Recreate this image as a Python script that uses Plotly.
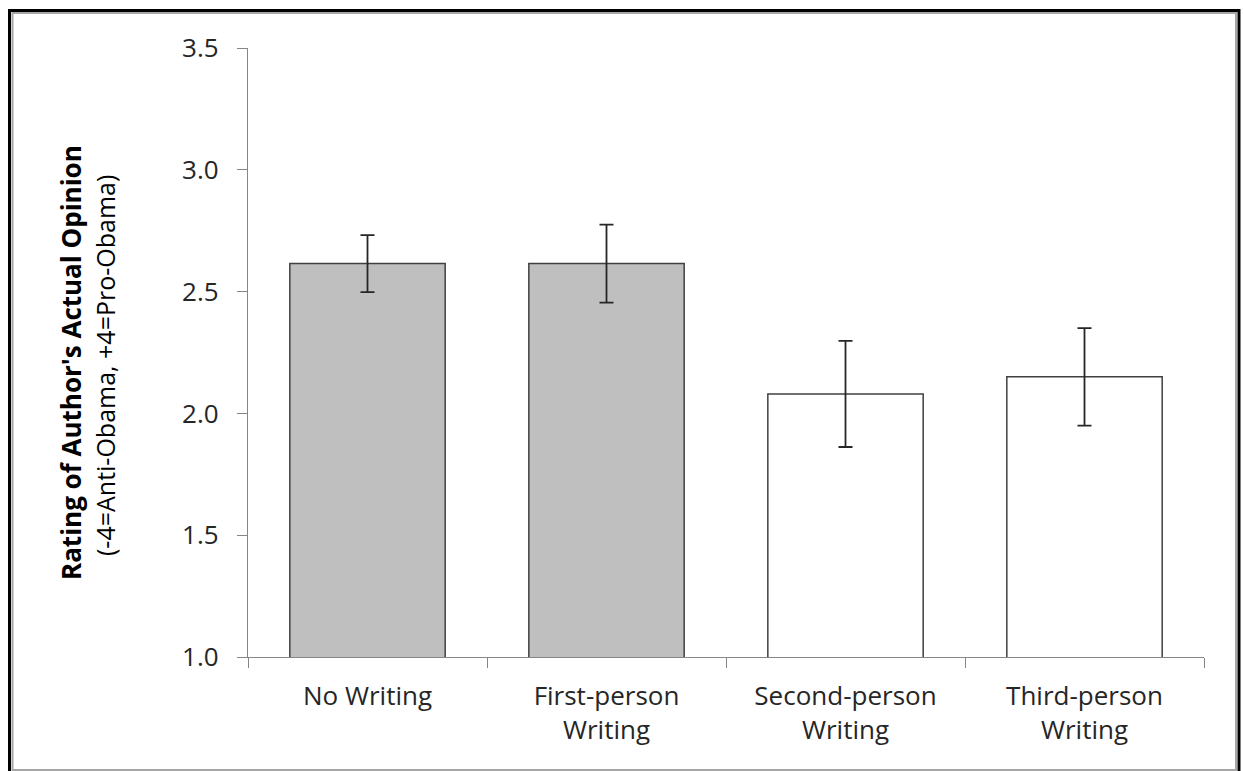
import plotly.graph_objects as go

# Condition labels and mean ratings with error magnitudes
categories = ["No Writing", "First-person<br>Writing", "Second-person<br>Writing", "Third-person<br>Writing"]
means = [2.615, 2.615, 2.08, 2.15]
errors = [0.117, 0.16, 0.218, 0.20]
fills = ["#BFBFBF", "#BFBFBF", "#FFFFFF", "#FFFFFF"]

y_ticks = [1.0, 1.5, 2.0, 2.5, 3.0, 3.5]

W, H = 1243, 771
L, R, T, B = 248, 39, 48, 114
PW, PH = W - L - R, H - T - B

FONT = "Open Sans"
TXT = "#262626"
AXIS = "#868686"


def px(x):
    return (x - L) / PW


def py(y):
    return (H - B - y) / PH


fig = go.Figure()
fig.add_trace(go.Bar(
    x=categories,
    y=means,
    marker=dict(color=fills, line=dict(color="#404040", width=1.5)),
    error_y=dict(type="data", array=errors, visible=True,
                 color="#262626", thickness=1.8, width=7),
    width=0.65,
))

fig.update_layout(
    width=W, height=H,
    margin=dict(l=L, r=R, t=T, b=B),
    paper_bgcolor="white", plot_bgcolor="white",
    showlegend=False,
    font=dict(family=FONT, size=26, color=TXT),
    xaxis=dict(
        showline=True, linecolor=AXIS, linewidth=1.3,
        ticks="outside", ticklen=10, tickcolor=AXIS, tickwidth=1.3,
        tickson="boundaries", showgrid=False, ticklabelstandoff=16,
        tickfont=dict(family=FONT, size=26, color=TXT),
    ),
    yaxis=dict(
        range=[1.0, 3.5], tickvals=y_ticks, tickformat=".1f",
        showline=True, linecolor=AXIS, linewidth=1.3,
        ticks="outside", ticklen=10, tickcolor=AXIS, tickwidth=1.3,
        showgrid=False, zeroline=False, ticklabelstandoff=13,
        tickfont=dict(family=FONT, size=26, color=TXT),
    ),
)

# Two-line rotated axis title: bold main line and regular scale note
fig.add_annotation(
    x=px(71), y=py(363), xref="paper", yref="paper",
    text="<b>Rating of Author's Actual Opinion</b>", textangle=-90,
    showarrow=False, font=dict(family=FONT, size=26, color="#000000"),
    xanchor="center", yanchor="middle",
)
fig.add_annotation(
    x=px(105), y=py(366), xref="paper", yref="paper",
    text="(-4=Anti-Obama, +4=Pro-Obama)", textangle=-90,
    showarrow=False, font=dict(family=FONT, size=25, color="#000000"),
    xanchor="center", yanchor="middle",
)

# Chart frame: dark outer edge with a lighter inner edge
fig.add_shape(type="rect", xref="paper", yref="paper",
              x0=px(9.5), x1=px(1239), y0=py(774), y1=py(10.5),
              line=dict(color="#000000", width=3), layer="above")
fig.add_shape(type="rect", xref="paper", yref="paper",
              x0=px(12.5), x1=px(1236), y0=py(770), y1=py(13),
              line=dict(color="#A6A6A6", width=2), layer="above")

fig.write_html("out.html")
